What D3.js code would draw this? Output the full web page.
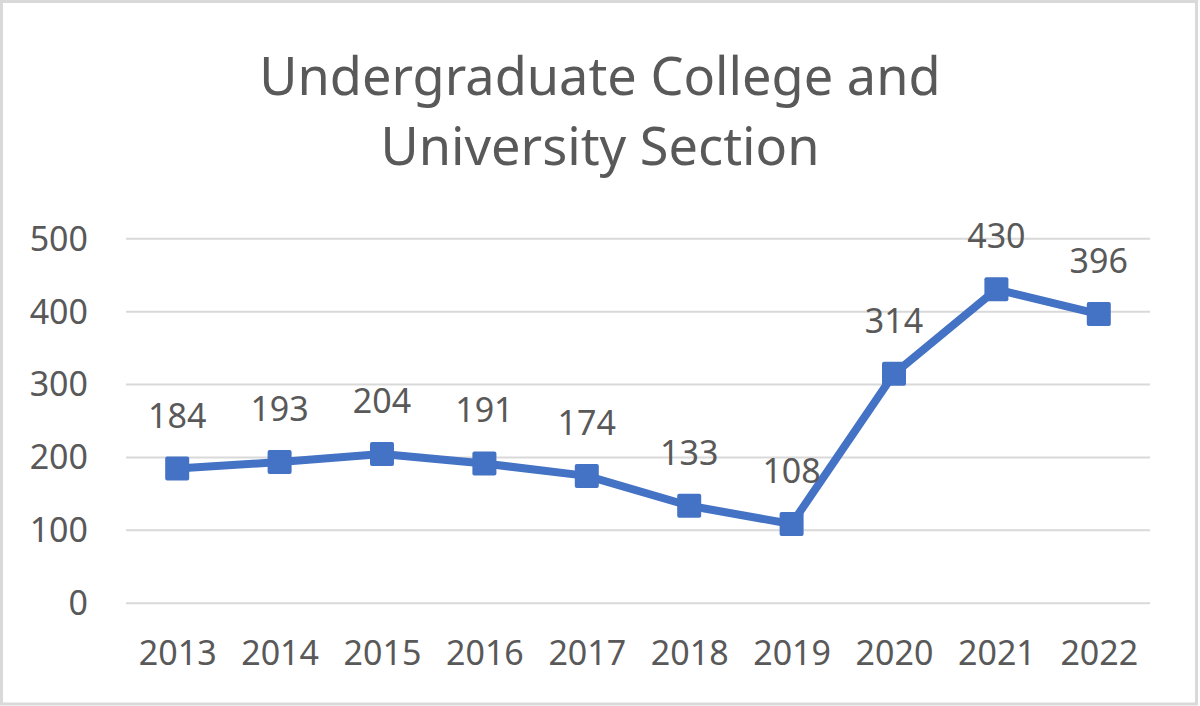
<!DOCTYPE html>
<html>
<head>
<meta charset="utf-8">
<script src="https://cdn.jsdelivr.net/npm/d3@7"></script>
<style>
  html, body { margin: 0; padding: 0; background: #fff; }
  svg { display: block; }
  text { font-family: "Noto Sans", "Open Sans", sans-serif; fill: #595959; }
</style>
</head>
<body>
<svg id="chart" width="1200" height="706"></svg>
<script>
const titleLines = ["Undergraduate College and", "University Section"];
const years = ["2013", "2014", "2015", "2016", "2017", "2018", "2019", "2020", "2021", "2022"];
const values = [184, 193, 204, 191, 174, 133, 108, 314, 430, 396];
const yTicks = [0, 100, 200, 300, 400, 500];

const svg = d3.select("#chart");
const W = 1200, H = 706;

svg.append("rect")
  .attr("x", 1.5).attr("y", 1.5)
  .attr("width", W - 5).attr("height", H - 3.5)
  .attr("fill", "#fff")
  .attr("stroke", "#d9d9d9").attr("stroke-width", 3);

const plot = { left: 126, right: 1150, top: 238.3, bottom: 602.7 };

const x = d3.scalePoint().domain(years).range([plot.left, plot.right]).padding(0.5);
const y = d3.scaleLinear().domain([0, 500]).range([plot.bottom, plot.top]);

// Title
svg.append("g").selectAll("text").data(titleLines).join("text")
  .attr("x", 600)
  .attr("y", (d, i) => 95 + i * 70)
  .attr("text-anchor", "middle")
  .attr("font-size", 52.3)
  .text(d => d);

// Gridlines
const yAxis = d3.axisLeft(y).tickValues(yTicks).tickSize(-(plot.right - plot.left)).tickPadding(38).tickFormat(d3.format("d"));
const gy = svg.append("g").attr("transform", `translate(${plot.left},0)`).call(yAxis);
gy.select(".domain").remove();
gy.selectAll(".tick line").attr("stroke", "#d9d9d9").attr("stroke-width", 2);
gy.selectAll(".tick text").attr("font-size", 34).attr("fill", "#595959")
  .attr("font-family", "Noto Sans, Open Sans, sans-serif").attr("dy", "0.35em");

// X axis labels
const xAxis = d3.axisBottom(x).tickSize(0).tickPadding(0);
const gx = svg.append("g").attr("transform", `translate(0,${plot.bottom})`).call(xAxis);
gx.select(".domain").remove();
gx.selectAll(".tick text").attr("font-size", 34).attr("fill", "#595959")
  .attr("font-family", "Noto Sans, Open Sans, sans-serif")
  .attr("dy", null).attr("y", 62);

// Line
const line = d3.line().x((d, i) => x(years[i])).y(d => y(d));
svg.append("path").datum(values)
  .attr("d", line)
  .attr("fill", "none")
  .attr("stroke", "#4472C4")
  .attr("stroke-width", 8)
  .attr("stroke-linejoin", "round");

// Markers
const ms = 24;
svg.append("g").selectAll("rect").data(values).join("rect")
  .attr("x", (d, i) => x(years[i]) - ms / 2)
  .attr("y", d => y(d) - ms / 2)
  .attr("width", ms).attr("height", ms)
  .attr("rx", 2)
  .attr("fill", "#4472C4");

// Data labels
svg.append("g").selectAll("text").data(values).join("text")
  .attr("x", (d, i) => x(years[i]))
  .attr("y", d => y(d) - 41)
  .attr("text-anchor", "middle")
  .attr("font-size", 34)
  .text(d => d);
</script>
</body>
</html>
